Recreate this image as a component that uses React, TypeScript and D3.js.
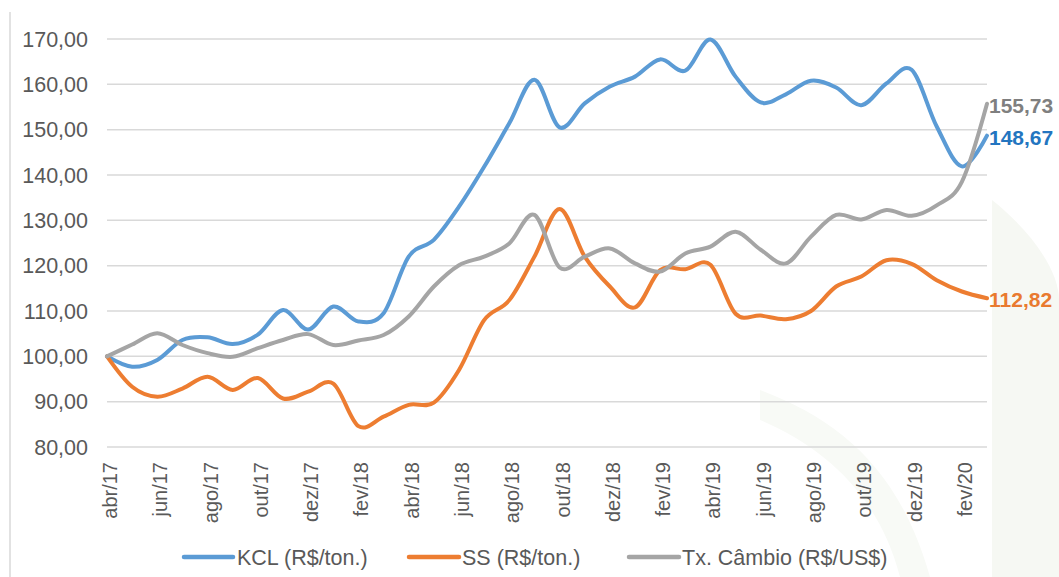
import React from "react";
import * as d3 from "d3";

const months = [
  "abr/17","mai/17","jun/17","jul/17","ago/17","set/17","out/17","nov/17","dez/17",
  "jan/18","fev/18","mar/18","abr/18","mai/18","jun/18","jul/18","ago/18","set/18","out/18","nov/18","dez/18",
  "jan/19","fev/19","mar/19","abr/19","mai/19","jun/19","jul/19","ago/19","set/19","out/19","nov/19","dez/19",
  "jan/20","fev/20","mar/20",
];

const kcl = [
  100, 97.7, 99.2, 103.6, 104.2, 102.7, 104.8, 110.2, 105.9, 111.0, 107.7, 109.5,
  122.0, 125.7, 133.0, 141.8, 151.4, 161.0, 150.5, 155.8, 159.5, 161.7, 165.5, 163.0,
  169.9, 161.7, 156.0, 157.8, 160.8, 159.3, 155.4, 160.2, 163.2, 150.7, 141.9, 148.67,
];

const ss = [
  100, 93.3, 91.1, 92.9, 95.5, 92.6, 95.2, 90.7, 92.2, 94.0, 84.6, 86.7,
  89.3, 89.8, 97.0, 108.0, 112.4, 122.0, 132.5, 122.0, 115.4, 110.8, 119.0, 119.2,
  120.2, 109.4, 109.0, 108.2, 110.0, 115.4, 117.6, 121.2, 120.4, 116.8, 114.3, 112.82,
];

const fx = [
  100, 102.6, 105.1, 102.5, 100.7, 99.9, 101.8, 103.6, 104.9, 102.5, 103.5, 104.7,
  108.8, 115.4, 120.1, 122.0, 124.9, 131.2, 119.6, 122.0, 123.8, 120.5, 118.7, 122.7,
  124.2, 127.5, 123.5, 120.5, 126.4, 131.2, 130.2, 132.3, 131.0, 133.3, 138.5, 155.73,
];

const yTicks = [80, 90, 100, 110, 120, 130, 140, 150, 160, 170];

const seriesNames = ["KCL (R$/ton.)", "SS (R$/ton.)", "Tx. Câmbio (R$/US$)"];
const endLabels = ["148,67", "112,82", "155,73"];

const colors = ["#5B9BD5", "#ED7D31", "#A5A5A5"];
const labelColors = ["#2375C0", "#E97A2F", "#7F7F7F"];

const W = 1059;
const H = 577;
const FONT = "'Liberation Sans', Arial, sans-serif";

export default function App() {
  const x = d3.scalePoint<string>().domain(months).range([107, 987]);
  const y = d3.scaleLinear().domain([80, 170]).range([447, 39]);
  const line = d3
    .line<number>()
    .x((_, i) => x(months[i]) as number)
    .y((d) => y(d))
    .curve(d3.curveCardinal.tension(0));

  const data = [kcl, ss, fx];
  const tickMonths = months.filter((_, i) => i % 2 === 0);
  const legendPos = [
    { x0: 184, x1: 233, tx: 237 },
    { x0: 409, x1: 459, tx: 462 },
    { x0: 629, x1: 679, tx: 682 },
  ];

  return (
    <svg
      width={W}
      height={H}
      style={{ position: "absolute", left: 0, top: 0, background: "#fff" }}
      fontFamily={FONT}
    >
      <rect x={0} y={0} width={W} height={H} fill="#fff" />
      {/* faint watermark */}
      <path
        d="M992,200 C1030,230 1059,270 1059,300 L1059,577 L992,577 Z"
        fill="#f6f8f3"
      />
      <path
        d="M760,390 C840,420 900,470 930,577 L900,577 C880,500 830,450 760,420 Z"
        fill="#f8faf6"
      />
      <line x1={10} x2={10} y1={12} y2={H} stroke="#d9d9d9" strokeWidth={1.5} />
      {yTicks.map((t) => (
        <g key={t}>
          <line x1={107} x2={987} y1={y(t)} y2={y(t)} stroke="#d9d9d9" strokeWidth={1.5} />
          <text
            x={88}
            y={y(t)}
            dy="0.36em"
            textAnchor="end"
            fontSize={21.5}
            fill="#595959"
          >
            {t.toFixed(2).replace(".", ",")}
          </text>
        </g>
      ))}
      {tickMonths.map((m) => {
        const px = (x(m) as number) + 3;
        return (
          <text
            key={m}
            transform={`translate(${px},462) rotate(-90)`}
            dy="0.35em"
            textAnchor="end"
            fontSize={20}
            fill="#595959"
          >
            {m}
          </text>
        );
      })}
      {data.map((d, i) => (
        <path
          key={i}
          d={line(d) || ""}
          fill="none"
          stroke={colors[i]}
          strokeWidth={4}
          strokeLinecap="round"
          strokeLinejoin="round"
        />
      ))}
      {data.map((d, i) => (
        <text
          key={"e" + i}
          x={989}
          y={y(d[d.length - 1]) + 1.5}
          dy="0.36em"
          fontSize={21}
          fontWeight="bold"
          fill={labelColors[i]}
        >
          {endLabels[i]}
        </text>
      ))}
      {seriesNames.map((n, i) => (
        <g key={n}>
          <line
            x1={legendPos[i].x0}
            x2={legendPos[i].x1}
            y1={557}
            y2={557}
            stroke={colors[i]}
            strokeWidth={4.5}
            strokeLinecap="round"
          />
          <text x={legendPos[i].tx} y={557} dy="0.36em" fontSize={21.5} fill="#595959">
            {n}
          </text>
        </g>
      ))}
    </svg>
  );
}
